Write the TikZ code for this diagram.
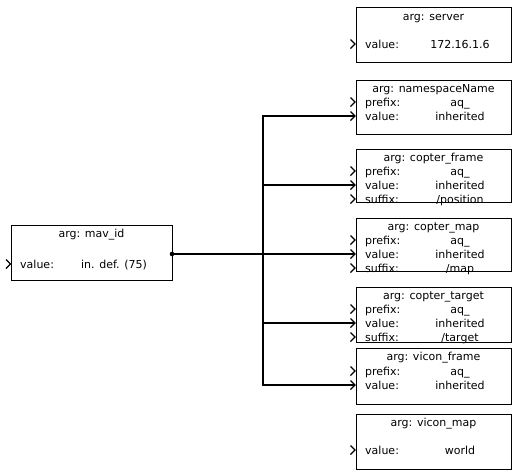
\documentclass[tikz,border=0pt]{standalone}
\usepackage{fontspec}
\setmainfont{DejaVu Sans}
\usetikzlibrary{positioning}

\begin{document}
\begin{tikzpicture}[x=1pt, y=-1pt, font=\fontsize{11}{12}\selectfont]
        \tikzstyle{argbox}=[draw, rectangle, line width=1.2pt, minimum width=155pt, minimum height=54pt, inner sep=0pt, anchor=north west];
        \tikzstyle{key}=[anchor=base west, inner sep=0pt];
        \tikzstyle{val}=[anchor=base, inner sep=0pt];
        \tikzstyle{wire}=[line width=1.2pt];
        \tikzstyle{port}=[line width=1.1pt];

        \useasboundingbox (0,0) rectangle (512,472);

        % source argument
        \node[argbox, minimum width=161pt, minimum height=55pt] (mav) at (11,225) {};
        \node[val] (mav-t) at (91.5,237) {arg: mav\_id};
        \node[key] (mav-k) at (20,268) {value:};
        \node[val] (mav-v) at (114,268) {in. def. (75)};
        \coordinate (mav-in) at (10.5,264);

        % right column
        \node[argbox, minimum height=55pt] (server) at (356,7) {};
        \node[val] (server-t) at (433.5,20) {arg: server};
        \node[key] (server-k) at (365,48) {value:};
        \node[val] (server-v) at (460,48) {172.16.1.6};
        \coordinate (server-in) at (355,44);

        \node[argbox] (ns) at (356,80) {};
        \node[val] (ns-t) at (433.5,92) {arg: namespaceName};
        \node[key] (ns-k1) at (365,106) {prefix:};
        \node[val] (ns-v1) at (460,106) {aq\_};
        \node[key] (ns-k2) at (365,120) {value:};
        \node[val] (ns-v2) at (460,120) {inherited};
        \coordinate (ns-pre) at (355,102);
        \coordinate (ns-in) at (355,116);

        \node[argbox, minimum height=53pt] (cf) at (356,149) {};
        \node[val] (cf-t) at (433.5,161) {arg: copter\_frame};
        \node[key] (cf-k1) at (365,175) {prefix:};
        \node[val] (cf-v1) at (460,175) {aq\_};
        \node[key] (cf-k2) at (365,189) {value:};
        \node[val] (cf-v2) at (460,189) {inherited};
        \node[key] (cf-k3) at (365,203) {suffix:};
        \node[val] (cf-v3) at (460,203) {/position};
        \coordinate (cf-pre) at (355,171);
        \coordinate (cf-in) at (355,185);
        \coordinate (cf-suf) at (355,199);

        \node[argbox, minimum height=53pt] (cm) at (356,218) {};
        \node[val] (cm-t) at (433.5,230) {arg: copter\_map};
        \node[key] (cm-k1) at (365,244) {prefix:};
        \node[val] (cm-v1) at (460,244) {aq\_};
        \node[key] (cm-k2) at (365,258) {value:};
        \node[val] (cm-v2) at (460,258) {inherited};
        \node[key] (cm-k3) at (365,272) {suffix:};
        \node[val] (cm-v3) at (460,272) {/map};
        \coordinate (cm-pre) at (355,240);
        \coordinate (cm-in) at (355,254);
        \coordinate (cm-suf) at (355,268);

        \node[argbox, minimum height=55pt] (ct) at (356,287) {};
        \node[val] (ct-t) at (433.5,299) {arg: copter\_target};
        \node[key] (ct-k1) at (365,313) {prefix:};
        \node[val] (ct-v1) at (460,313) {aq\_};
        \node[key] (ct-k2) at (365,327) {value:};
        \node[val] (ct-v2) at (460,327) {inherited};
        \node[key] (ct-k3) at (365,341) {suffix:};
        \node[val] (ct-v3) at (460,341) {/target};
        \coordinate (ct-pre) at (355,309);
        \coordinate (ct-in) at (355,323);
        \coordinate (ct-suf) at (355,337);

        \node[argbox, minimum height=56pt] (vf) at (356,348) {};
        \node[val] (vf-t) at (433.5,360) {arg: vicon\_frame};
        \node[key] (vf-k1) at (365,375) {prefix:};
        \node[val] (vf-v1) at (460,375) {aq\_};
        \node[key] (vf-k2) at (365,389) {value:};
        \node[val] (vf-v2) at (460,389) {inherited};
        \coordinate (vf-pre) at (355,371);
        \coordinate (vf-in) at (355,385);

        \node[argbox, minimum height=55pt] (vm) at (356,414) {};
        \node[val] (vm-t) at (433.5,426) {arg: vicon\_map};
        \node[key] (vm-k) at (365,454) {value:};
        \node[val] (vm-v) at (460,454) {world};
        \coordinate (vm-in) at (355,450);

        % input ports
        \foreach \p in {mav-in, server-in, ns-pre, ns-in, cf-pre, cf-in, cf-suf, cm-pre, cm-in, cm-suf, ct-pre, ct-in, ct-suf, vf-pre, vf-in, vm-in}
            \draw[port] ([shift={(-4.5,-4.5)}]\p) -- (\p) -- ([shift={(-4.5,4.5)}]\p);

        % connections
        \fill (172,254) circle (2.3pt) coordinate (mav-out);
        \coordinate (split) at (263,254);
        \draw[wire] (mav-out) -- (cm-in);
        \draw[wire] (split) |- (ns-in);
        \draw[wire] (split) |- (cf-in);
        \draw[wire] (split) |- (ct-in);
        \draw[wire] (split) |- (vf-in);
    \end{tikzpicture}
\end{document}
